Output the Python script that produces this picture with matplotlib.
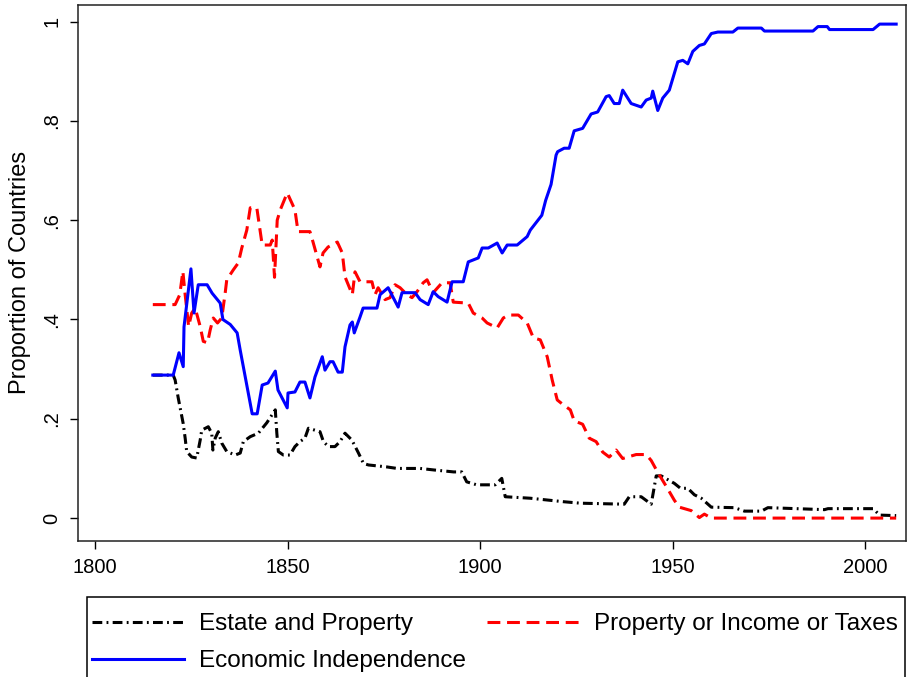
import matplotlib
matplotlib.use("Agg")
import matplotlib.pyplot as plt

plt.rcParams['font.family'] = ['Liberation Sans', 'DejaVu Sans']

# Estate and Property
est_years = [1815, 1820.3, 1820.8, 1821.6, 1822.9, 1823.4, 1823.8, 1825.1, 1826.4, 1827.3,
             1827.7, 1829.4, 1830.3, 1830.6, 1831.2, 1832.0, 1832.9, 1834.2, 1836.4, 1837.7,
             1838.5, 1840.3, 1842.4, 1844.6, 1846.8, 1847.2, 1847.6, 1848.9, 1850.6, 1851.9,
             1853.2, 1854.5, 1855.4, 1858.4, 1859.3, 1860.6, 1862.3, 1863.6, 1864.9, 1866.7,
             1868.4, 1869.7, 1871.0, 1875.8, 1878.4, 1884.4, 1887.9, 1893.1, 1895.2, 1896.5,
             1899.1, 1903.9, 1905.6, 1906.5, 1913.0, 1921.6, 1926.0, 1937.4, 1938.7, 1941.8,
             1944.4, 1945.7, 1947.0, 1950.4, 1952.0, 1953.9, 1955.6, 1957.4, 1960.0, 1966.0,
             1968.6, 1973.0, 1974.7, 1989.4, 1990.3, 2002.0, 2003.7, 2008.0]
est_vals = [0.288, 0.288, 0.278, 0.242, 0.19, 0.161, 0.134, 0.123, 0.121, 0.157,
            0.177, 0.184, 0.171, 0.137, 0.161, 0.174, 0.151, 0.134, 0.127, 0.131,
            0.154, 0.164, 0.171, 0.192, 0.218, 0.171, 0.134, 0.127, 0.127, 0.144,
            0.154, 0.161, 0.181, 0.174, 0.154, 0.144, 0.144, 0.154, 0.171, 0.157,
            0.131, 0.11, 0.107, 0.103, 0.1, 0.1, 0.097, 0.093, 0.093, 0.073,
            0.067, 0.067, 0.08, 0.043, 0.04, 0.033, 0.03, 0.028, 0.043, 0.043,
            0.028, 0.085, 0.085, 0.07, 0.06, 0.06, 0.047, 0.04, 0.022, 0.021,
            0.014, 0.014, 0.021, 0.017, 0.019, 0.019, 0.006, 0.005]

# Property or Income or Taxes
tax_years = [1815, 1820.8, 1822.0, 1822.8, 1823.4, 1824.3, 1825.1, 1826.0, 1827.3, 1828.1,
             1829.2, 1829.9, 1830.7, 1831.8, 1832.9, 1833.8, 1834.2, 1835.9, 1837.2, 1838.1,
             1839.4, 1840.3, 1842.0, 1843.4, 1845.5, 1846.0, 1846.6, 1847.3, 1848.1, 1849.9,
             1851.9, 1852.7, 1855.8, 1856.6, 1858.4, 1859.2, 1860.5, 1862.9, 1864.2, 1864.9,
             1866.8, 1867.5, 1868.8, 1871.9, 1872.7, 1873.5, 1875.3, 1876.6, 1877.9, 1879.2,
             1881.0, 1882.3, 1883.6, 1885.2, 1886.2, 1887.8, 1890.1, 1892.2, 1893.0, 1896.9,
             1898.2, 1900.5, 1901.8, 1904.4, 1906.0, 1907.3, 1909.9, 1912.2, 1913.8, 1915.6,
             1917.4, 1918.7, 1920.0, 1921.6, 1923.4, 1924.4, 1926.6, 1928.3, 1930.1, 1931.8,
             1933.5, 1935.3, 1937.0, 1938.3, 1940.5, 1943.1, 1944.4, 1946.1, 1948.3, 1950.4,
             1951.7, 1954.8, 1956.9, 1958.2, 1960.0, 2008.0]
tax_vals = [0.43, 0.43, 0.45, 0.497, 0.45, 0.386, 0.413, 0.423, 0.386, 0.356,
            0.353, 0.379, 0.403, 0.393, 0.403, 0.454, 0.48, 0.5, 0.514, 0.544,
            0.58, 0.625, 0.625, 0.55, 0.55, 0.56, 0.485, 0.6, 0.621, 0.655,
            0.621, 0.577, 0.577, 0.556, 0.506, 0.534, 0.546, 0.556, 0.534, 0.486,
            0.45, 0.496, 0.476, 0.476, 0.45, 0.464, 0.44, 0.444, 0.47, 0.464,
            0.45, 0.444, 0.456, 0.474, 0.48, 0.454, 0.474, 0.474, 0.435, 0.433,
            0.413, 0.403, 0.393, 0.383, 0.403, 0.409, 0.409, 0.393, 0.363, 0.359,
            0.325, 0.278, 0.238, 0.228, 0.218, 0.196, 0.189, 0.161, 0.154, 0.133,
            0.123, 0.137, 0.12, 0.123, 0.128, 0.128, 0.116, 0.092, 0.064, 0.036,
            0.022, 0.015, 0.001, 0.008, 0.0, 0.0]

# Economic Independence
eco_years = [1815, 1820.3, 1821.8, 1822.9, 1823.1, 1824.9, 1825.7, 1826.8, 1829.1, 1830.4,
             1832.5, 1833.2, 1835.1, 1836.9, 1837.7, 1840.8, 1842.1, 1843.4, 1844.9, 1846.8,
             1847.5, 1849.9, 1850.1, 1851.9, 1853.2, 1854.5, 1855.8, 1857.1, 1859.0, 1859.7,
             1861.0, 1861.8, 1863.1, 1864.2, 1864.9, 1866.2, 1866.8, 1867.3, 1868.8, 1869.6,
             1873.2, 1874.0, 1876.1, 1878.7, 1879.7, 1883.1, 1884.4, 1886.5, 1887.8, 1889.1,
             1891.4, 1892.7, 1895.6, 1896.9, 1899.5, 1900.5, 1902.1, 1904.4, 1905.7, 1907.0,
             1909.6, 1912.2, 1913.0, 1915.0, 1916.0, 1917.0, 1918.4, 1919.7, 1920.1, 1921.8,
             1923.1, 1924.4, 1926.6, 1928.8, 1930.5, 1932.7, 1933.5, 1934.8, 1936.1, 1937.0,
             1939.2, 1941.8, 1943.1, 1944.4, 1944.8, 1946.1, 1947.4, 1949.1, 1951.3, 1952.6,
             1953.9, 1955.2, 1956.9, 1958.2, 1960.0, 1961.7, 1965.6, 1966.9, 1973.0, 1973.8,
             1986.4, 1987.7, 1990.1, 1990.7, 2002.0, 2003.7, 2008.0]
eco_vals = [0.288, 0.288, 0.333, 0.305, 0.385, 0.502, 0.413, 0.47, 0.47, 0.453,
            0.433, 0.4, 0.39, 0.373, 0.338, 0.21, 0.21, 0.268, 0.272, 0.296,
            0.258, 0.222, 0.252, 0.254, 0.274, 0.274, 0.242, 0.284, 0.325, 0.298,
            0.315, 0.315, 0.294, 0.294, 0.345, 0.389, 0.395, 0.373, 0.405, 0.423,
            0.423, 0.45, 0.464, 0.425, 0.454, 0.454, 0.44, 0.43, 0.456, 0.446,
            0.435, 0.476, 0.476, 0.516, 0.524, 0.544, 0.544, 0.554, 0.534, 0.55,
            0.55, 0.567, 0.58, 0.6, 0.61, 0.64, 0.672, 0.731, 0.738, 0.745,
            0.745, 0.78, 0.785, 0.814, 0.818, 0.849, 0.851, 0.835, 0.835, 0.862,
            0.835, 0.828, 0.842, 0.846, 0.86, 0.821, 0.846, 0.862, 0.919, 0.922,
            0.915, 0.94, 0.952, 0.955, 0.976, 0.979, 0.979, 0.987, 0.987, 0.981,
            0.981, 0.99, 0.99, 0.984, 0.984, 0.995, 0.995]

labels = ['Estate and Property', 'Property or Income or Taxes', 'Economic Independence']
x_ticks = [1800, 1850, 1900, 1950, 2000]
y_ticks = [0, 0.2, 0.4, 0.6, 0.8, 1.0]
y_ticklabels = ['0', '.2', '.4', '.6', '.8', '1']

fig = plt.figure(figsize=(9.08, 6.77), dpi=100)
ax = fig.add_axes([0.086, 0.201, 0.912, 0.792])

l1, = ax.plot(est_years, est_vals, color='black', lw=2.2, dashes=(3.2, 1.4, 0.6, 1.4),
              label=labels[0])
l2, = ax.plot(tax_years, tax_vals, color='red', lw=2.2, dashes=(4.2, 2.2), label=labels[1])
l3, = ax.plot(eco_years, eco_vals, color='blue', lw=2.2, label=labels[2])

ax.set_xlim(1795.6, 2010.6)
ax.set_ylim(-0.046, 1.034)
ax.set_xticks(x_ticks)
ax.set_yticks(y_ticks)
ax.set_yticklabels(y_ticklabels, rotation=90, va='center')
ax.tick_params(axis='both', direction='out', length=6, width=1, labelsize=14.5, pad=6)
ax.set_ylabel('Proportion of Countries', fontsize=17, labelpad=8)
for s in ax.spines.values():
    s.set_linewidth(1.1)
    s.set_color('#222222')

# legend box: runs off the bottom of the image like in the original
W, H = 908, 677
box = plt.Rectangle((87 / W, -0.05), (905 - 87) / W, 0.05 + (H - 597) / H,
                    transform=fig.transFigure, fill=False, edgecolor='black', lw=1.1)
fig.add_artist(box)

# row-wise order: column 1 holds Estate / Economic, column 2 holds Property
leg = fig.legend([l1, l3, l2], [labels[0], labels[2], labels[1]], ncol=2,
                 loc='upper left', bbox_to_anchor=(92 / W, (H - 613) / H, (898 - 92) / W, 0),
                 mode='expand', fontsize=17.5, frameon=False,
                 handlelength=3.8, labelspacing=0.62,
                 borderpad=0, handletextpad=0.6, borderaxespad=0)

fig.savefig('out.png', dpi=100)
